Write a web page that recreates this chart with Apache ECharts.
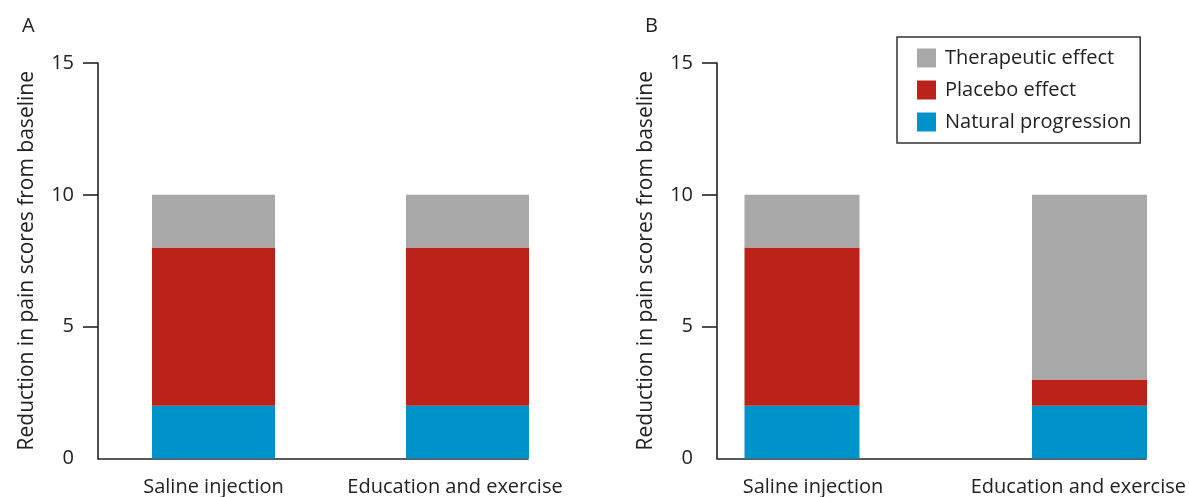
<!DOCTYPE html>
<html>
<head>
<meta charset="utf-8">
<script src="https://cdn.jsdelivr.net/npm/echarts@6/dist/echarts.min.js"></script>
<style>
html,body{margin:0;padding:0;background:#fff;}
#chart{width:1189px;height:497px;}
</style>
</head>
<body>
<div id="chart"></div>
<script>
// ---- data ----
const categories = ['Saline injection', 'Education and exercise'];
const seriesNames = ['Natural progression', 'Placebo effect', 'Therapeutic effect'];
const legendOrder = ['Therapeutic effect', 'Placebo effect', 'Natural progression'];
const naturalA = [2, 2];
const placeboA = [6, 6];
const therapeuticA = [2, 2];
const naturalB = [2, 2];
const placeboB = [6, 1];
const therapeuticB = [2, 7];
const yTicks = [5, 10, 15];
const panelLetters = ['A', 'B'];
const yTitle = 'Reduction in pain scores from baseline';

const colors = {
  'Natural progression': '#0093c9',
  'Placebo effect': '#bb2219',
  'Therapeutic effect': '#a8a8a8'
};
const FONT = 'Open Sans';
const FS = 20;
const TXT = '#222';
const TOP = 63, BOTTOM = 38.5;
const W = 1189;

function g(left, right) { return {left: left, right: right, top: TOP, bottom: BOTTOM}; }

const grids = [
  g(98, W - 528),              // 0: A axes
  g(213.5, W - 467.5),         // 1: A bars (category points at edges)
  g(213.5, W - 455),           // 2: A labels
  g(717, W - 1146),            // 3: B axes
  g(802, W - 1089.5),          // 4: B bars
  g(813, W - 1080.5)           // 5: B labels
];

const xAxes = [], yAxes = [];
for (let p = 0; p < 2; p++) {
  const gi = p * 3;
  xAxes.push({gridIndex: gi, type: 'value', min: 0, max: 1,
    axisLine: {show: true, lineStyle: {color: TXT, width: 1.6}},
    axisTick: {show: false}, axisLabel: {show: false}, splitLine: {show: false}});
  yAxes.push({gridIndex: gi, type: 'value', min: 0, max: 15, interval: 5,
    name: yTitle, nameLocation: 'middle', nameGap: 60,
    nameTextStyle: {fontFamily: FONT, fontSize: 21, color: TXT},
    axisLine: {show: true, lineStyle: {color: TXT, width: 1.6}},
    axisTick: {show: true, length: 15, customValues: yTicks, lineStyle: {color: TXT, width: 1.6}},
    axisLabel: {margin: 24, fontFamily: FONT, fontSize: FS, color: TXT},
    splitLine: {show: false}});
  xAxes.push({gridIndex: gi + 1, type: 'category', data: categories, boundaryGap: false,
    axisLine: {show: false}, axisTick: {show: false}, axisLabel: {show: false}});
  yAxes.push({gridIndex: gi + 1, type: 'value', min: 0, max: 15, show: false});
  xAxes.push({gridIndex: gi + 2, type: 'category', data: categories, boundaryGap: false,
    axisLine: {show: false}, axisTick: {show: false},
    axisLabel: {margin: 28, fontFamily: FONT, fontSize: FS, color: TXT, interval: 0}});
  yAxes.push({gridIndex: gi + 2, type: 'value', min: 0, max: 15, show: false});
}

const panelData = [
  {'Natural progression': naturalA, 'Placebo effect': placeboA, 'Therapeutic effect': therapeuticA},
  {'Natural progression': naturalB, 'Placebo effect': placeboB, 'Therapeutic effect': therapeuticB}
];
const barWidths = [123, 115];
const series = [];
for (let p = 0; p < 2; p++) {
  seriesNames.forEach(function (n) {
    series.push({
      name: n, type: 'bar', stack: 'panel' + p,
      xAxisIndex: p * 3 + 1, yAxisIndex: p * 3 + 1,
      barWidth: barWidths[p],
      itemStyle: {color: colors[n]},
      emphasis: {disabled: true},
      data: panelData[p][n]
    });
  });
}

const letterStyle = {fontFamily: FONT, fontSize: FS, fontWeight: 'normal', color: TXT};
const chart = echarts.init(document.getElementById('chart'), null, {renderer: 'canvas'});
chart.setOption({
  animation: false,
  backgroundColor: '#fff',
  title: [
    {text: panelLetters[0], left: 22, top: 16, padding: 0, textStyle: letterStyle},
    {text: panelLetters[1], left: 645, top: 16, padding: 0, textStyle: letterStyle}
  ],
  legend: {
    data: legendOrder, orient: 'vertical', left: 897, top: 37,
    borderColor: '#333', borderWidth: 1.5, padding: [11, 9, 11, 20],
    itemWidth: 19, itemHeight: 19, itemGap: 12, icon: 'rect',
    selectedMode: false,
    textStyle: {fontFamily: FONT, fontSize: FS, color: TXT, padding: [0, 0, 0, 4]}
  },
  grid: grids,
  xAxis: xAxes,
  yAxis: yAxes,
  series: series
});
</script>
</body>
</html>
